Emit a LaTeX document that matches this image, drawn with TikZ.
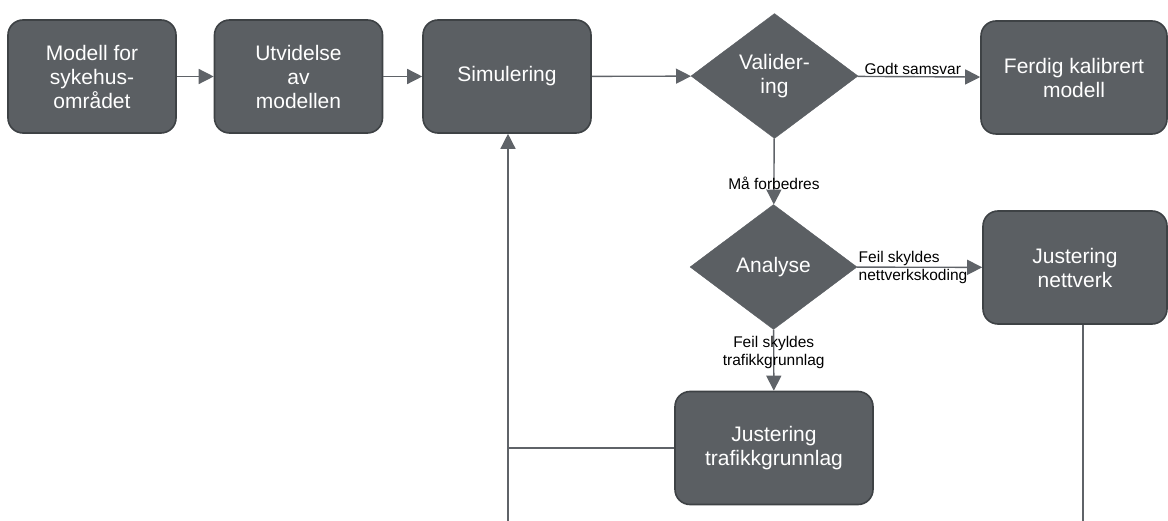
\documentclass[tikz,border=0pt]{standalone}
\usepackage{fontspec}
\setmainfont{Liberation Sans}
\usetikzlibrary{shapes.geometric,arrows.meta}
\definecolor{boksgraa}{HTML}{5B5F63}
\definecolor{kantgraa}{HTML}{3E4245}
\definecolor{linjegraa}{HTML}{5F6368}
\tikzset{
  boks/.style={rectangle, rounded corners=15pt, draw=kantgraa, line width=1.6pt, fill=boksgraa,
    text=white, align=center, minimum width=168pt, minimum height=113pt, inner sep=0pt,
    font=\fontsize{21}{24}\selectfont},
  beslutning/.style={diamond, draw=boksgraa, fill=boksgraa, text=white, align=center,
    minimum width=167pt, minimum height=125pt, inner sep=0pt, font=\fontsize{21}{24}\selectfont},
  pil/.style={draw=linjegraa, line width=1.4pt, -{Triangle[length=15pt, width=15pt]}},
  linje/.style={draw=linjegraa, line width=1.4pt},
  etikett/.style={font=\fontsize{15.5}{18}\selectfont, text=black, inner sep=1pt, align=center}
}
\begin{document}
\begin{tikzpicture}[x=1pt, y=-1pt]
  \useasboundingbox (0,0) rectangle (1168,521); %
  \node[boks] (modell) at (92,76.5) {Modell for\\sykehus-\\området}; %
  \node[boks] (utvidelse) at (298.5,76.5) {Utvidelse\\av\\modellen}; %
  \node[boks] (simulering) at (507,76.5) {Simulering}; %
  \node[beslutning] (validering) at (774.5,76) {Valider-\\ing}; %
  \node[boks, minimum width=186pt] (ferdig) at (1074,77.5) {Ferdig kalibrert\\modell}; %
  \node[beslutning] (analyse) at (773.5,267) {Analyse}; %
  \node[boks, minimum width=184pt] (justnett) at (1075,267.5) {Justering\\nettverk}; %
  \node[boks, minimum width=198pt] (justtrafikk) at (774,448) {Justering\\trafikkgrunnlag}; %
  \coordinate (bunn) at (508,521); %
  \coordinate (knekk) at (508,448); %
  \coordinate (nettut) at ([xshift=8pt]justnett.south); %
  \draw[pil] (modell) -- (utvidelse); %
  \draw[pil] (utvidelse) -- (simulering); %
  \draw[pil] (simulering) -- (validering); %
  \draw[pil] (validering) -- node[etikett, above, pos=0.45]{Godt samsvar} (ferdig); %
  \draw[pil] (validering) -- node[etikett, pos=0.68]{Må forbedres} (analyse); %
  \draw[pil] (analyse) -- node[etikett, anchor=west, align=left, pos=0]{Feil skyldes\\nettverkskoding} (justnett); %
  \draw[pil] (analyse) -- node[etikett, pos=0.38]{Feil skyldes\\trafikkgrunnlag} (justtrafikk); %
  \draw[linje] (justtrafikk.west) -- (knekk); %
  \draw[pil] (bunn) -- (simulering.south -| bunn); %
  \draw[linje] (nettut) -- (nettut |- bunn); %
\end{tikzpicture}
\end{document}
